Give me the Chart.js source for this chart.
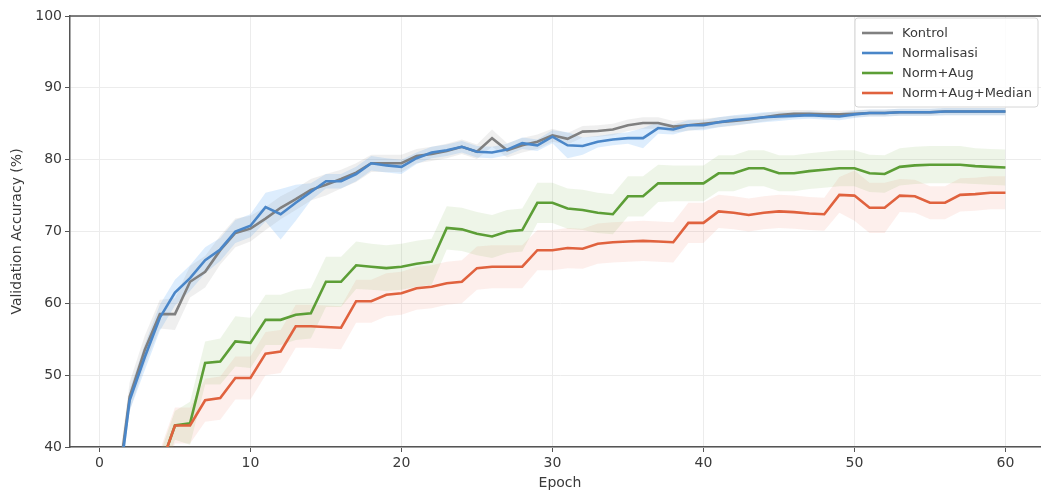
<!DOCTYPE html>
<html>
<head>
<meta charset="utf-8">
<script src="https://cdn.jsdelivr.net/npm/chart.js@4.4.1/dist/chart.umd.min.js"></script>
<style>
html, body { margin: 0; padding: 0; background: #fff; overflow: hidden; }
</style>
</head>
<body>
<canvas id="chart" width="1052" height="495"></canvas>
<script>
const epochs = [1, 2, 3, 4, 5, 6, 7, 8, 9, 10, 11, 12, 13, 14, 15, 16, 17, 18, 19, 20,
  21, 22, 23, 24, 25, 26, 27, 28, 29, 30, 31, 32, 33, 34, 35, 36, 37, 38, 39, 40,
  41, 42, 43, 44, 45, 46, 47, 48, 49, 50, 51, 52, 53, 54, 55, 56, 57, 58, 59, 60];
const xTicks = [0, 10, 20, 30, 40, 50, 60];
const yTicks = [40, 50, 60, 70, 80, 90, 100];

// mean accuracy per epoch
const kontrol = [31, 47, 53.5, 58.5, 58.5, 63, 64.4, 67.4, 69.8, 70.4,
  71.8, 73.3, 74.5, 75.8, 76.5, 77.3, 78.2, 79.5, 79.5, 79.5,
  80.5, 80.8, 81.2, 81.8, 81.1, 83, 81.3, 82, 82.5, 83.4,
  82.9, 83.9, 84, 84.2, 84.8, 85.1, 85.1, 84.6, 84.8, 85,
  85.2, 85.4, 85.6, 85.9, 86.2, 86.4, 86.4, 86.3, 86.3, 86.4,
  86.5, 86.5, 86.6, 86.6, 86.6, 86.7, 86.7, 86.7, 86.7, 86.7];
const normalisasi = [30, 46.5, 52.5, 58, 61.5, 63.5, 66, 67.5, 70, 70.8,
  73.4, 72.4, 74, 75.5, 77, 77, 78, 79.5, 79.2, 79,
  80.2, 81, 81.3, 81.8, 81.1, 81, 81.4, 82.3, 82, 83.2,
  82, 81.9, 82.5, 82.8, 83, 83, 84.4, 84.2, 84.8, 84.8,
  85.2, 85.5, 85.7, 85.9, 86, 86.1, 86.2, 86.1, 86, 86.3,
  86.5, 86.5, 86.6, 86.6, 86.6, 86.7, 86.7, 86.7, 86.7, 86.7];
const normAug = [30, 33, 35, 37, 43, 43.3, 51.7, 51.9, 54.7, 54.5,
  57.7, 57.7, 58.4, 58.6, 63, 63, 65.3, 65.1, 64.9, 65.1,
  65.5, 65.8, 70.5, 70.3, 69.7, 69.3, 70, 70.2, 74, 74,
  73.2, 73, 72.6, 72.4, 74.9, 74.9, 76.7, 76.7, 76.7, 76.7,
  78.1, 78.1, 78.8, 78.8, 78.1, 78.1, 78.4, 78.6, 78.8, 78.8,
  78.1, 78, 79, 79.2, 79.3, 79.3, 79.3, 79.1, 79, 78.9];
const normAugMedian = [30, 33, 35, 37, 43, 43, 46.5, 46.8, 49.6, 49.6,
  53, 53.3, 56.8, 56.8, 56.7, 56.6, 60.3, 60.3, 61.2, 61.4,
  62.1, 62.3, 62.8, 63, 64.9, 65.1, 65.1, 65.1, 67.4, 67.4,
  67.7, 67.6, 68.3, 68.5, 68.6, 68.7, 68.6, 68.5, 71.2, 71.2,
  72.8, 72.6, 72.3, 72.6, 72.8, 72.7, 72.5, 72.4, 75.1, 75,
  73.3, 73.3, 75, 74.9, 74, 74, 75.1, 75.2, 75.4, 75.4];

// spread (std) per epoch, for the shaded bands
const kontrolStd = [2, 2, 2, 2, 2.2, 2.2, 2.2, 2, 2, 1.8,
  1.6, 1.6, 1.5, 1.5, 1.5, 1.3, 1.3, 1.2, 1.2, 1.2,
  1, 1, 1, 1, 1, 1.2, 1, 1, 1, 0.9,
  0.8, 0.8, 0.8, 0.8, 0.8, 0.8, 0.8, 0.8, 0.8, 0.7,
  0.7, 0.7, 0.6, 0.6, 0.6, 0.5, 0.5, 0.5, 0.5, 0.5,
  0.5, 0.5, 0.5, 0.5, 0.5, 0.5, 0.5, 0.5, 0.5, 0.5];
const normalisasiStd = [1.5, 1.5, 1.8, 1.8, 1.8, 1.8, 1.8, 1.6, 1.6, 1.6,
  2, 3.5, 2.5, 1.2, 1, 1, 1, 1, 1, 1,
  0.8, 0.8, 0.8, 0.8, 0.8, 0.8, 0.8, 0.8, 0.8, 0.9,
  1.8, 1.2, 0.8, 0.8, 0.8, 1.4, 0.8, 0.7, 0.7, 0.7,
  0.7, 0.7, 0.7, 0.7, 0.6, 0.5, 0.5, 0.5, 0.5, 0.5,
  0.5, 0.5, 0.5, 0.5, 0.5, 0.5, 0.5, 0.5, 0.5, 0.5];
const normAugStd = [2, 2, 2, 2, 2, 3, 3, 3.2, 3.5, 3.5,
  3.5, 3.5, 3.5, 3.5, 3.5, 3.5, 3.3, 3.2, 3.2, 3.2,
  3.2, 3.2, 3, 3, 3, 3, 3, 3, 2.8, 2.8,
  2.8, 2.8, 2.8, 2.8, 2.8, 2.8, 2.6, 2.5, 2.5, 2.5,
  2.5, 2.5, 2.5, 2.5, 2.5, 2.5, 2.5, 2.5, 2.5, 2.5,
  2.6, 2.6, 2.6, 2.6, 2.6, 2.6, 2.6, 2.5, 2.5, 2.5];
const normAugMedianStd = [2.5, 2.5, 2.5, 2.5, 2.5, 2.5, 3, 3, 3, 3,
  3, 3, 3, 3, 3, 3, 3, 3, 3, 3,
  3, 3, 3, 3, 3, 3, 3, 3, 2.8, 2.8,
  2.8, 2.8, 2.8, 2.8, 2.8, 2.8, 2.8, 2.8, 2.8, 2.8,
  2.3, 2.3, 2.3, 2.3, 2.3, 2.3, 2.3, 2.3, 2.5, 3.5,
  3.5, 3.5, 2.3, 2.3, 2.3, 2.3, 2.3, 2.3, 2.3, 2.3];

const seriesNames = ['Kontrol', 'Normalisasi', 'Norm+Aug', 'Norm+Aug+Median'];
const lineColors = ['#808080', '#4a86c8', '#5c9e36', '#e0623e'];
const bandColors = ['rgba(128,128,128,0.13)', 'rgba(100,175,245,0.22)',
  'rgba(120,180,80,0.13)', 'rgba(240,130,105,0.13)'];

const means = [kontrol, normalisasi, normAug, normAugMedian];
const stds = [kontrolStd, normalisasiStd, normAugStd, normAugMedianStd];

function pts(arr) {
  return arr.map((v, i) => ({ x: epochs[i], y: v }));
}

const datasets = [];
// bands first: lower edge, then upper edge filled down to it
means.forEach((m, k) => {
  const s = stds[k];
  datasets.push({
    data: pts(m.map((v, i) => v - s[i])),
    borderWidth: 0, pointRadius: 0, fill: false, order: 10
  });
  datasets.push({
    data: pts(m.map((v, i) => v + s[i])),
    borderWidth: 0, pointRadius: 0, fill: '-1',
    backgroundColor: bandColors[k], order: 10
  });
});
means.forEach((m, k) => {
  datasets.push({
    label: seriesNames[k],
    data: pts(m),
    borderColor: lineColors[k],
    borderWidth: 2.6,
    pointRadius: 0,
    tension: 0,
    fill: false,
    order: 4 - k
  });
});

const FONT = 'DejaVu Sans';
const AXIS = '#555';
const TEXT = '#3a3a3a';

const framePlugin = {
  id: 'frame',
  afterDraw(chart) {
    const { ctx, chartArea } = chart;
    ctx.save();
    // top spine
    ctx.strokeStyle = AXIS;
    ctx.lineWidth = 1.5;
    ctx.beginPath();
    ctx.moveTo(chartArea.left, chartArea.top);
    ctx.lineTo(chartArea.right, chartArea.top);
    ctx.stroke();

    // legend box
    const bx = 855, by = 18, bw = 183, bh = 89;
    ctx.fillStyle = 'rgba(255,255,255,0.85)';
    ctx.strokeStyle = '#d6d6d6';
    ctx.lineWidth = 1;
    ctx.beginPath();
    ctx.roundRect(bx, by, bw, bh, 3);
    ctx.fill();
    ctx.stroke();
    ctx.font = '13px "' + FONT + '"';
    ctx.textBaseline = 'middle';
    ctx.fillStyle = TEXT;
    seriesNames.forEach((name, k) => {
      const y = 33 + k * 20;
      ctx.strokeStyle = lineColors[k];
      ctx.lineWidth = 2.6;
      ctx.beginPath();
      ctx.moveTo(862, y);
      ctx.lineTo(893, y);
      ctx.stroke();
      ctx.fillText(name, 902, y + 1);
    });
    ctx.restore();
  }
};

new Chart(document.getElementById('chart'), {
  type: 'line',
  data: { datasets },
  options: {
    responsive: false,
    animation: false,
    layout: { padding: { top: 16, right: 2, left: 0, bottom: 0 } },
    plugins: {
      legend: { display: false },
      tooltip: { enabled: false },
      filler: { drawTime: 'beforeDatasetsDraw' }
    },
    scales: {
      x: {
        type: 'linear',
        min: -1.95,
        max: 62.95,
        afterBuildTicks: (scale) => { scale.ticks = xTicks.map(v => ({ value: v })); },
        afterFit: (scale) => { scale.height = 48; },
        grid: { color: '#ececec', tickColor: AXIS, tickLength: 5, tickWidth: 1 },
        border: { color: AXIS, width: 1.5 },
        ticks: { color: TEXT, font: { family: FONT, size: 14 }, padding: 3, maxRotation: 0 },
        title: { display: true, text: 'Epoch', color: TEXT, font: { family: FONT, size: 14 }, padding: { top: 2, bottom: 3 } }
      },
      y: {
        min: 40,
        max: 100,
        afterBuildTicks: (scale) => { scale.ticks = yTicks.map(v => ({ value: v })); },
        afterFit: (scale) => { scale.width = 70; },
        grid: { color: '#ececec', tickColor: AXIS, tickLength: 5, tickWidth: 1 },
        border: { color: AXIS, width: 1.5 },
        ticks: { color: TEXT, font: { family: FONT, size: 14 }, padding: 3 },
        title: { display: true, text: 'Validation Accuracy (%)', color: TEXT, font: { family: FONT, size: 14 }, padding: { top: 9, bottom: 4 } }
      }
    }
  },
  plugins: [framePlugin]
});
</script>
</body>
</html>
